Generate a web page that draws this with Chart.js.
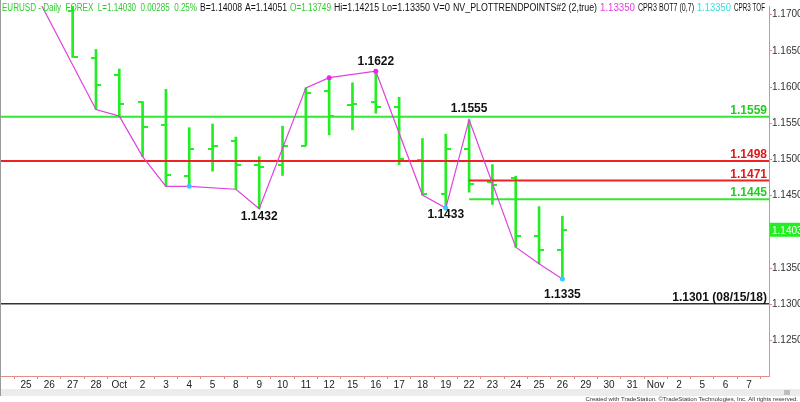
<!DOCTYPE html>
<html lang="en">
<head>
<meta charset="UTF-8">
<title>EURUSD Daily</title>
<script src="https://cdn.jsdelivr.net/npm/chart.js"></script>
<style>
  body { margin: 0; background: #fff; }
  #wrap { width: 800px; height: 402px; position: relative; }
</style>
</head>
<body>
<div id="wrap"><canvas id="chart"></canvas></div>
<script>
// x axis: one slot per trading day
const dayLabels = ['25','26','27','28','Oct','2','3','4','5','8','9','10','11','12','15','16','17','18','19','22','23','24','25','26','29','30','31','Nov','2','5','6','7'];
const yTicks = [1.1250, 1.1300, 1.1350, 1.1400, 1.1450, 1.1500, 1.1550, 1.1600, 1.1650, 1.1700];

// OHLC bars, Sep 27 .. Oct 26 (slot index 2..23)
const barIdx  = [2, 3, 4, 5, 6, 7, 8, 9, 10, 11, 12, 13, 14, 15, 16, 17, 18, 19, 20, 21, 22, 23];
const opens  = [1.1705, 1.1640, 1.1617, 1.1579, 1.1548, 1.1477, 1.1515, 1.1525, 1.1492, 1.1492, 1.1519, 1.1595, 1.1575, 1.1579, 1.1573, 1.1500, 1.1452, 1.1515, 1.1469, 1.1474, 1.1394, 1.13749];
const highs  = [1.1715, 1.1652, 1.1625, 1.1580, 1.1597, 1.1544, 1.1549, 1.1531, 1.1504, 1.1546, 1.1599, 1.1613, 1.1606, 1.1622, 1.1586, 1.1529, 1.1535, 1.1555, 1.1493, 1.1477, 1.1435, 1.14215];
const lows   = [1.1641, 1.1569, 1.1560, 1.1504, 1.1463, 1.1463, 1.1484, 1.1459, 1.1432, 1.1478, 1.1519, 1.1534, 1.1541, 1.1564, 1.1493, 1.1451, 1.1433, 1.1455, 1.1438, 1.1379, 1.1356, 1.13350];
const closes = [1.1641, 1.1603, 1.1577, 1.1545, 1.1478, 1.1514, 1.1519, 1.1492, 1.1490, 1.1518, 1.1592, 1.1560, 1.1577, 1.1573, 1.1501, 1.1452, 1.1515, 1.1466, 1.1465, 1.1394, 1.1375, 1.14030];

// zig-zag trend points
const trendIdx = [0, 3, 4, 5, 6, 7, 9, 10, 12, 13, 15, 17, 18, 19, 21, 22, 23];
const trendVal = [1.1754, 1.1569, 1.1560, 1.1504, 1.1463, 1.1463, 1.1459, 1.1432, 1.1599, 1.1613, 1.1622, 1.1451, 1.1433, 1.1555, 1.1379, 1.1356, 1.1335];
const dotIdx = [7, 13, 15, 18, 23];
const dotVal = [1.1463, 1.1613, 1.1622, 1.1433, 1.1335];
const dotKind = ['low', 'high', 'high', 'low', 'low'];

// pivot labels
const pivotIdx = [15, 10, 19, 18, 23];
const pivotVal = [1.1622, 1.1432, 1.1555, 1.1433, 1.1335];
const pivotOffset = [-9, 8, -11, 7, 16];   // px above(-)/below(+) the price

// horizontal levels
const levelVal   = [1.1559, 1.1498, 1.1471, 1.1445, 1.1301];
const levelFrom  = [-2, -2, 19, 19, -2];
const levelText  = ['1.1559', '1.1498', '1.1471', '1.1445', '1.1301 (08/15/18)'];
const levelColor = ['#33e833', '#ee2222', '#ee2222', '#33e833', '#333333'];
const levelTextColor = ['#1fcf1f', '#e01818', '#e01818', '#1fcf1f', '#111111'];

const lastPrice = 1.14030;

const FONT = "'Liberation Sans', Arial, sans-serif";
const BAR = '#22ee22';
const AXIS = '#e28c8c';

function tickImage(side) {
    const c = document.createElement('canvas');
    c.width = 10; c.height = 2;
    const g = c.getContext('2d');
    g.fillStyle = BAR;
    g.fillRect(side === 'left' ? 0 : 5, 0, 5, 2);
    return c;
}

// status line: [x, text, colour]
const headerParts = [
    [2,   'EURUSD - Daily  FOREX  L=1.14030  0.00285  0.25%', '#2ccc2c'],
    [200, 'B=1.14008', '#111'],
    [245, 'A=1.14051', '#111'],
    [290, 'O=1.13749', '#2ccc2c'],
    [334, 'Hi=1.14215', '#111'],
    [382, 'Lo=1.13350', '#111'],
    [433, 'V=0', '#111'],
    [453, 'NV_PLOTTRENDPOINTS#2 (2,true)', '#111'],
    [600, '1.13350', '#e63ce6'],
    [638, 'CPR3 BOT7 (0,7)', '#111'],
    [697, '1.13350', '#33dddd'],
    [734, 'CPR3 TOF', '#111']
];

const overlay = {
    id: 'overlay',
    afterDatasetsDraw(chart) {
        const ctx = chart.ctx, x = chart.scales.x, y = chart.scales.y, a = chart.chartArea;
        ctx.save();
        ctx.beginPath();
        ctx.rect(a.left, a.top, a.right - a.left, a.bottom - a.top);
        ctx.clip();
        // level labels
        ctx.font = 'bold 12px ' + FONT;
        ctx.textAlign = 'right';
        ctx.textBaseline = 'alphabetic';
        levelVal.forEach((v, i) => {
            ctx.fillStyle = levelTextColor[i];
            ctx.fillText(levelText[i], a.right - 2, y.getPixelForValue(v) - 3);
        });
        // pivot labels
        ctx.textAlign = 'center';
        ctx.textBaseline = 'middle';
        ctx.fillStyle = '#111';
        pivotVal.forEach((v, i) => {
            ctx.fillText(v.toFixed(4), x.getPixelForValue(pivotIdx[i]), y.getPixelForValue(v) + pivotOffset[i]);
        });
        ctx.restore();

        // status line (squeezed to the reference widths)
        ctx.save();
        ctx.font = '10px ' + FONT;
        ctx.textAlign = 'left';
        ctx.textBaseline = 'alphabetic';
        headerParts.forEach((p, i) => {
            const next = i < headerParts.length - 1 ? headerParts[i + 1][0] : 768;
            ctx.fillStyle = p[2];
            ctx.fillText(p[1], p[0], 11, next - p[0] - 3);
        });

        // last price box on the axis
        const py = y.getPixelForValue(lastPrice);
        ctx.fillStyle = BAR;
        ctx.fillRect(a.right + 1, py - 7, 30, 14);
        ctx.fillStyle = '#fff';
        ctx.font = '10px ' + FONT;
        ctx.textBaseline = 'middle';
        ctx.fillText(lastPrice.toFixed(4), a.right + 3, py + 1);
        // scroll strip, left edge, credit
        ctx.fillStyle = '#ececec';
        ctx.fillRect(0, 389, 800, 7);
        ctx.fillStyle = '#bdbdbd';
        ctx.fillRect(784, 390, 6, 5);
        ctx.fillStyle = '#9a9a9a';
        ctx.fillRect(0, 0, 1, 396);
        ctx.fillStyle = '#333';
        ctx.font = '6px ' + FONT;
        ctx.textAlign = 'right';
        ctx.fillText('Created with TradeStation. \u00A9TradeStation Technologies, Inc. All rights reserved.', 798, 399);
        ctx.restore();
    }
};

const xMin = -1.115, xMax = 31.86;
const yMin = 1.12011, yMax = 1.17120;

const levelSets = levelVal.map((v, i) => ({
    type: 'line',
    data: [{ x: levelFrom[i], y: v }, { x: 40, y: v }],
    borderColor: levelColor[i],
    borderWidth: i === 4 ? 1.5 : 2,
    pointRadius: 0,
    order: 2
}));

new Chart(document.getElementById('chart'), {
    type: 'bar',
    data: {
        datasets: [
            {
                type: 'scatter',
                data: dotIdx.map((d, i) => ({ x: d, y: dotVal[i] })),
                pointRadius: 2.5,
                pointBackgroundColor: dotKind.map(k => k === 'high' ? '#ee22ee' : '#33ccff'),
                pointBorderWidth: 0,
                order: 0
            },
            {
                type: 'line',
                data: trendIdx.map((d, i) => ({ x: d, y: trendVal[i] })),
                borderColor: '#e040e0',
                borderWidth: 1.2,
                pointRadius: 0,
                order: 1
            },
            ...levelSets,
            {
                type: 'scatter',
                data: barIdx.map((d, i) => ({ x: d, y: opens[i] })),
                pointStyle: tickImage('left'),
                order: 3
            },
            {
                type: 'scatter',
                data: barIdx.map((d, i) => ({ x: d, y: closes[i] })),
                pointStyle: tickImage('right'),
                order: 3
            },
            {
                type: 'bar',
                data: barIdx.map((d, i) => ({ x: d, y: [lows[i], highs[i]] })),
                backgroundColor: BAR,
                borderWidth: 0,
                barThickness: 2,
                order: 4
            }
        ]
    },
    options: {
        responsive: true,
        maintainAspectRatio: false,
        animation: false,
        layout: { padding: 0, autoPadding: false },
        plugins: { legend: { display: false }, tooltip: { enabled: false } },
        events: [],
        scales: {
            x: {
                type: 'linear',
                min: xMin,
                max: xMax,
                offset: false,
                afterFit(s) { s.height = 26; },
                afterBuildTicks(s) { s.ticks = dayLabels.map((_, i) => ({ value: i })); },
                ticks: {
                    callback: v => dayLabels[v],
                    autoSkip: false,
                    maxRotation: 0,
                    padding: 0,
                    color: '#222',
                    font: { size: 10, family: FONT }
                },
                grid: { drawOnChartArea: false, color: AXIS, tickLength: 3 },
                border: { color: AXIS }
            },
            y: {
                position: 'right',
                min: yMin,
                max: yMax,
                afterFit(s) { s.width = 31; },
                afterBuildTicks(s) { s.ticks = yTicks.map(v => ({ value: v })); },
                ticks: {
                    callback: v => v.toFixed(4),
                    padding: 0,
                    color: '#333',
                    font: { size: 10, family: FONT }
                },
                grid: { drawOnChartArea: false, color: AXIS, tickLength: 3 },
                border: { color: AXIS }
            }
        }
    },
    plugins: [overlay]
});
</script>
</body>
</html>
